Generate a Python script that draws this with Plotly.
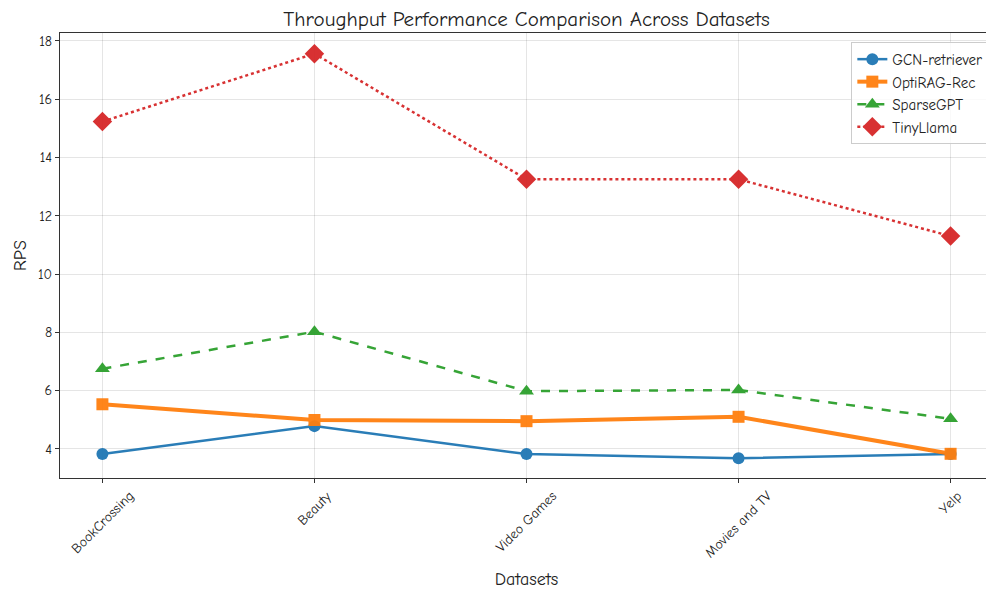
import plotly.graph_objects as go

datasets = ["BookCrossing", "Beauty", "Video Games", "Movies and TV", "Yelp"]
gcn = [3.82, 4.78, 3.82, 3.68, 3.82]
optirag = [5.53, 4.99, 4.95, 5.10, 3.83]
sparsegpt = [6.75, 8.02, 5.98, 6.02, 5.03]
tinyllama = [15.23, 17.56, 13.25, 13.25, 11.30]
yticks = [4, 6, 8, 10, 12, 14, 16, 18]

FONT = "Comic Sans MS, Comic Neue, DejaVu Sans, sans-serif"
x = list(range(len(datasets)))

series = [
    ("GCN-retriever", gcn, "#1f77b4", "solid", 2.5, "circle", 12),
    ("OptiRAG-Rec", optirag, "#ff7f0e", "solid", 4, "square", 12),
    ("SparseGPT", sparsegpt, "#2ca02c", "dash", 2.5, "triangle-up", 13),
    ("TinyLlama", tinyllama, "#d62728", "dot", 2.5, "diamond", 15),
]

fig = go.Figure()
for name, vals, color, dash, w, sym, sz in series:
    fig.add_trace(go.Scatter(
        x=x, y=vals, name=name, mode="lines+markers",
        line=dict(color=color, dash=dash, width=w),
        marker=dict(symbol=sym, size=sz, color=color),
        opacity=0.95,
    ))

axis_common = dict(
    showline=True, linecolor="#333", linewidth=1.2, mirror=True,
    ticks="outside", ticklen=4, tickcolor="#333",
    showgrid=True, gridcolor="rgba(0,0,0,0.1)", gridwidth=1,
    zeroline=False, tickfont=dict(family=FONT, size=14, color="#222"),
)

# rotated category labels, centred under each tick (matplotlib-style)
for xi, label in zip(x, datasets):
    fig.add_annotation(x=xi, xref="x", y=0, yref="paper", text=label,
                       showarrow=False, textangle=-45, xanchor="center",
                       yanchor="top", yshift=-7,
                       font=dict(family=FONT, size=14, color="#222"))

fig.update_layout(
    width=986, height=582,
    paper_bgcolor="white", plot_bgcolor="white",
    margin=dict(l=52, r=1, t=25, b=112),
    title=dict(text="Throughput Performance Comparison Across Datasets",
               xref="paper", x=0.5, xanchor="center", y=0.982, yanchor="middle",
               font=dict(family=FONT, size=21, color="#222")),
    xaxis=dict(axis_common, tickmode="array", tickvals=x, showticklabels=False,
               range=[-0.2, 4.2],
               title=dict(text="Datasets", font=dict(family=FONT, size=18, color="#222"), standoff=90)),
    yaxis=dict(axis_common, tickmode="array", tickvals=yticks, range=[3.0, 18.27],
               title=dict(text="RPS", font=dict(family=FONT, size=18, color="#222"), standoff=6)),
    legend=dict(x=0.995, y=0.98, xanchor="right", yanchor="top",
                bgcolor="rgba(255,255,255,0.8)", bordercolor="#ccc", borderwidth=1,
                font=dict(family=FONT, size=15, color="#222")),
    showlegend=True,
)

fig.write_html("out.html")
